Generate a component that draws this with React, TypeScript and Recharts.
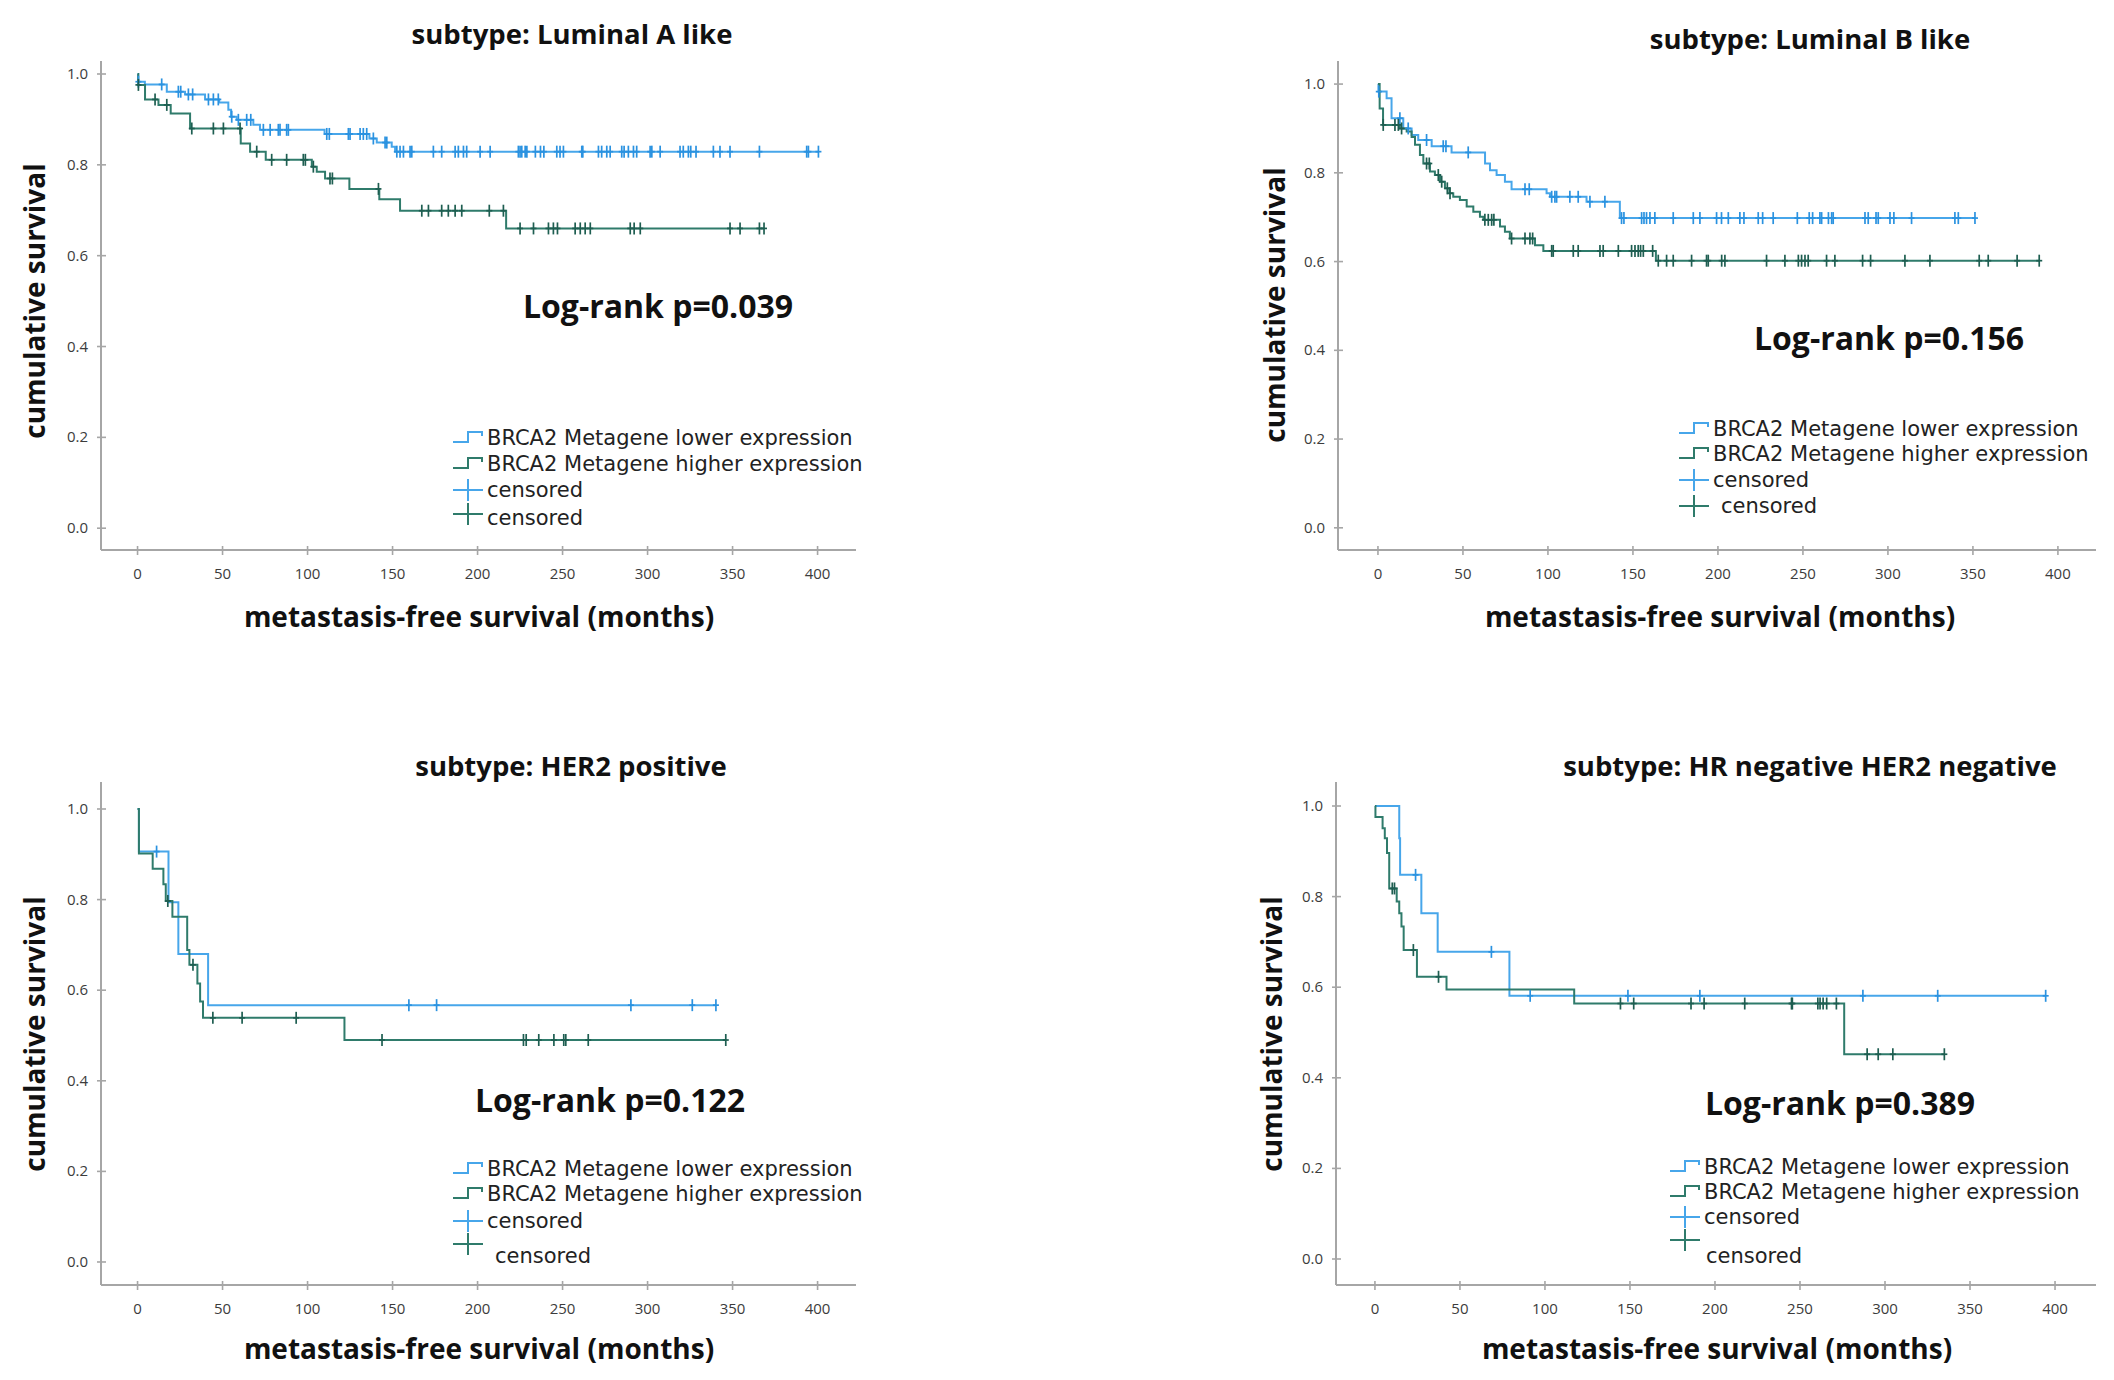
import { ComposedChart, Line, Scatter, XAxis, YAxis } from "recharts";

type Step = [number, number];

const monthTicks = [0, 50, 100, 150, 200, 250, 300, 350, 400];
const survTicks = [0, 0.2, 0.4, 0.6, 0.8, 1.0];
const legendLabels = [
    "BRCA2 Metagene lower expression",
    "BRCA2 Metagene higher expression",
    "censored",
    "censored",
];

// subtype: Luminal A like
const lumALowSteps: Step[] = [
    [0, 1.0], [0.4, 0.983], [4.3, 0.977], [17.2, 0.961], [27.9, 0.955], [39.7, 0.944], [48, 0.937],
    [53.4, 0.921], [55, 0.906], [58.3, 0.899], [68.1, 0.888], [72, 0.877], [110, 0.868],
    [136.4, 0.858], [140.7, 0.849], [149.5, 0.84], [151.5, 0.829],
];
const lumALowCensored = [
    0.5, 14.2, 24, 25.4, 29.9, 32.4, 41.7, 44.6, 47.5, 55.4, 59.3, 64.2, 66.6, 74, 78, 82.8, 83.8,
    87.7, 88.7, 111.3, 112.8, 124, 125, 130.9, 132.8, 134.8, 138.7, 145.6, 146.6, 152.5, 154.4,
    156.4, 160.3, 161.3, 174, 178.9, 186.8, 188.7, 191.7, 193.6, 201.5, 207.4, 224, 225, 226, 228,
    229, 234, 237, 239, 246.6, 248.5, 250.5, 261.3, 261.9, 271.1, 273, 276, 278, 284.8, 286.2,
    288.7, 291.7, 293.6, 301.5, 302.5, 307.4, 319.1, 321, 324, 325.4, 328.5, 338.7, 342.6, 348.5,
    365.8, 393.6, 394.6, 400.5,
];
const lumAHighSteps: Step[] = [
    [0, 1.0], [0.4, 0.976], [4.4, 0.944], [12.3, 0.932], [19.5, 0.913], [30.9, 0.88], [60.7, 0.847],
    [66.2, 0.829], [75.4, 0.811], [102.5, 0.796], [105.4, 0.785], [110.3, 0.77], [124.6, 0.747],
    [142.2, 0.724], [154.4, 0.699], [216.8, 0.66],
];
const lumAHighCensored = [
    0.5, 10.3, 17.2, 31.9, 44.6, 50.5, 60.3, 70.1, 78.9, 87.7, 97.5, 98.7, 103.4, 113.2, 114.6,
    141.7, 167.2, 171.1, 178.9, 182.8, 186.8, 190.7, 206.9, 215.2, 225, 232.9, 241.7, 244.6, 247,
    257.4, 260.4, 263.3, 266.3, 289.8, 292.1, 295.7, 348.5, 354.4, 365.8, 368.5,
];

// subtype: Luminal B like
const lumBLowSteps: Step[] = [
    [0, 1.0], [0.3, 0.983], [5.1, 0.968], [8, 0.923], [14.9, 0.9], [19.8, 0.885], [23.7, 0.874],
    [31.6, 0.86], [43.3, 0.846], [63, 0.821], [65.9, 0.806], [69.8, 0.795], [74.7, 0.78],
    [78.6, 0.763], [99.2, 0.754], [101.2, 0.746], [122.7, 0.735], [142.3, 0.698],
];
const lumBLowCensored = [
    0.5, 12.9, 17.8, 28.6, 38.4, 40, 53.1, 86.5, 89, 102.2, 104.1, 105.1, 112.9, 117.8, 124.7,
    133.5, 143.3, 144.7, 155.1, 156.5, 158, 160, 162.9, 173.7, 185.5, 189.4, 199.2, 202.1, 206.1,
    212.9, 215.3, 223.7, 226.3, 232.5, 246.7, 253.7, 255.7, 260, 261, 265, 266.9, 267.8, 286.5,
    288.4, 293, 294.3, 301.2, 303.5, 313.9, 339.4, 341.4, 351.2,
];
const lumBHighSteps: Step[] = [
    [0, 1.0], [1, 0.945], [3, 0.908], [12.9, 0.9], [16.9, 0.893], [19.8, 0.881], [21.8, 0.863],
    [24.7, 0.84], [26.7, 0.821], [30.6, 0.803], [33.5, 0.795], [36.5, 0.78], [39.4, 0.765],
    [42, 0.754], [44.3, 0.746], [48.2, 0.739], [52.2, 0.724], [56.1, 0.712], [60, 0.701],
    [62, 0.694], [71.8, 0.679], [74.7, 0.667], [77.6, 0.652], [92.4, 0.637], [97.3, 0.624],
    [163.5, 0.602],
];
const lumBHighCensored = [
    3.1, 10, 12, 13.9, 28.6, 30.2, 35.5, 37.5, 40.8, 42.4, 62.9, 64.9, 66.9, 68.2, 78.6, 86.5, 89.4,
    91, 102.2, 103.1, 114.9, 117.8, 130.6, 132.5, 141.4, 149.2, 151.2, 153.1, 154.5, 156.1, 161.6,
    164.9, 169.8, 173.7, 184.5, 193.3, 194.3, 202.2, 204.1, 228.6, 239.4, 247.3, 249.2, 251.2,
    253.1, 263.9, 268.8, 285.1, 289.8, 310, 324.7, 353.7, 359, 376, 389,
];

// subtype: HER2 positive
const her2LowSteps: Step[] = [[0, 1.0], [0.8, 0.906], [18.2, 0.794], [24, 0.68], [41.5, 0.567]];
const her2LowCensored = [11.2, 159.6, 175.9, 290.2, 326.3, 340.2];
const her2HighSteps: Step[] = [
    [0, 1.0], [0.8, 0.902], [8.9, 0.868], [15.2, 0.834], [16.6, 0.797], [20.5, 0.762],
    [29.2, 0.689], [30.5, 0.656], [35.2, 0.615], [36.8, 0.575], [38.5, 0.539], [121.7, 0.49],
];
const her2HighCensored = [
    17.8, 32.6, 44.3, 61.5, 93.3, 143.8, 227, 228.6, 236, 244.9, 250.7, 251.9, 265.1, 346,
];

// subtype: HR negative HER2 negative
const tnLowSteps: Step[] = [
    [0, 1.0], [14.3, 0.929], [14.8, 0.848], [27.3, 0.763], [36.9, 0.678], [79.1, 0.581],
];
const tnLowCensored = [23.9, 68.5, 91.3, 148.8, 191.1, 287, 331, 394.5];
const tnHighSteps: Step[] = [
    [0, 1.0], [0.3, 0.976], [4.5, 0.951], [5.8, 0.929], [7.1, 0.896], [8.4, 0.818], [12.8, 0.789],
    [14.3, 0.763], [15.6, 0.734], [16.9, 0.682], [24.7, 0.623], [42.1, 0.595], [117.2, 0.564],
    [276, 0.452],
];
const tnHighCensored = [
    10.2, 11.5, 22.6, 37.4, 144.4, 152.2, 185.9, 193.6, 217.5, 245, 245.5, 260.5, 261.8, 263.6,
    265.7, 271.4, 289.5, 296, 304.6, 334.9,
];

const BLUE = "#47a6ea";
const BLUE_MARK = "#2a92e0";
const GREEN = "#2f7b6b";
const GREEN_MARK = "#1e5e51";
const AXIS = "#a6a6a6";
const FONT = "'Open Sans', sans-serif";
const LEGEND_FONT = "'DejaVu Sans', sans-serif";

const survAt = (steps: Step[], t: number) => {
    let s = steps[0][1];
    for (const [tt, ss] of steps) if (tt <= t) s = ss;
    return s;
};

const lineData = (steps: Step[], cens: number[]) => {
    const pts = steps.map(([t, s]) => ({ t, s }));
    const last = steps[steps.length - 1];
    const end = Math.max(...cens);
    if (end > last[0]) pts.push({ t: end, s: last[1] });
    return pts;
};

const censData = (steps: Step[], cens: number[]) => cens.map((t) => ({ t, s: survAt(steps, t) }));

const Censor = ({ cx, cy, color }: { cx?: number; cy?: number; color: string }) => {
    if (cx == null || cy == null) return null;
    return (
        <g stroke={color} strokeWidth={1.7}>
            <line x1={cx} y1={cy - 6} x2={cx} y2={cy + 6} />
            <line x1={cx - 3} y1={cy} x2={cx + 3} y2={cy} />
        </g>
    );
};

interface Box { x: number; y: number; w: number; h: number }
interface Rect { left: number; top: number; right: number; bottom: number }

interface PanelProps {
    box: Box;
    plot: Rect;
    xDomain: [number, number];
    yDomain: [number, number];
    lowSteps: Step[];
    lowCens: number[];
    highSteps: Step[];
    highCens: number[];
}

const Y_AXIS_W = 60;
const X_AXIS_H = 40;

const KMPanel = ({ box, plot, xDomain, yDomain, lowSteps, lowCens, highSteps, highCens }: PanelProps) => {
    const margin = {
        left: plot.left - box.x - Y_AXIS_W,
        top: plot.top - box.y,
        right: box.x + box.w - plot.right,
        bottom: box.y + box.h - plot.bottom - X_AXIS_H,
    };
    const axisX = plot.left - box.x;
    const axisY = plot.bottom - box.y;

    const xTick = (p: any) => (
        <g>
            <line x1={p.x} y1={axisY - 4} x2={p.x} y2={axisY + 5} stroke={AXIS} strokeWidth={1.6} />
            <text x={p.x} y={axisY + 29} textAnchor="middle" fontSize={15} fill="#3c3c3c" fontFamily={FONT}>
                {p.payload.value}
            </text>
        </g>
    );
    const yTick = (p: any) => (
        <g>
            <line x1={axisX - 4} y1={p.y} x2={axisX + 5} y2={p.y} stroke={AXIS} strokeWidth={1.6} />
            <text x={axisX - 13} y={p.y + 5} textAnchor="end" fontSize={15} fill="#3c3c3c" fontFamily={FONT}>
                {Number(p.payload.value).toFixed(1)}
            </text>
        </g>
    );

    return (
        <div style={{ position: "absolute", left: box.x, top: box.y }}>
            <ComposedChart width={box.w} height={box.h} margin={margin}>
                <XAxis
                    type="number"
                    dataKey="t"
                    domain={xDomain}
                    ticks={monthTicks}
                    interval={0}
                    allowDataOverflow
                    height={X_AXIS_H}
                    axisLine={{ stroke: AXIS, strokeWidth: 2 }}
                    tickLine={false}
                    tick={xTick}
                />
                <YAxis
                    type="number"
                    dataKey="s"
                    domain={yDomain}
                    ticks={survTicks}
                    interval={0}
                    allowDataOverflow
                    width={Y_AXIS_W}
                    axisLine={{ stroke: AXIS, strokeWidth: 2 }}
                    tickLine={false}
                    tick={yTick}
                />
                <Line
                    data={lineData(lowSteps, lowCens)}
                    dataKey="s"
                    type="stepAfter"
                    stroke={BLUE}
                    strokeWidth={2}
                    dot={false}
                    isAnimationActive={false}
                />
                <Line
                    data={lineData(highSteps, highCens)}
                    dataKey="s"
                    type="stepAfter"
                    stroke={GREEN}
                    strokeWidth={2}
                    dot={false}
                    isAnimationActive={false}
                />
                <Scatter
                    data={censData(lowSteps, lowCens)}
                    dataKey="s"
                    isAnimationActive={false}
                    shape={(p: any) => <Censor cx={p.cx} cy={p.cy} color={BLUE_MARK} />}
                />
                <Scatter
                    data={censData(highSteps, highCens)}
                    dataKey="s"
                    isAnimationActive={false}
                    shape={(p: any) => <Censor cx={p.cx} cy={p.cy} color={GREEN_MARK} />}
                />
            </ComposedChart>
        </div>
    );
};

const StepIcon = ({ color }: { color: string }) => (
    <svg width={32} height={16} style={{ display: "block" }}>
        <polyline points="1,13 16,13 16,3 30,3 30,7" fill="none" stroke={color} strokeWidth={2} />
    </svg>
);

const PlusIcon = ({ color }: { color: string }) => (
    <svg width={32} height={24} style={{ display: "block" }}>
        <line x1={1} y1={12} x2={31} y2={12} stroke={color} strokeWidth={2} />
        <line x1={16} y1={1} x2={16} y2={23} stroke={color} strokeWidth={2} />
    </svg>
);

interface LegendProps { x: number; rows: number[]; lastIndent: number; lastIconLift: number }

const KMLegend = ({ x, rows, lastIndent, lastIconLift }: LegendProps) => {
    const icons = [
        <StepIcon color={BLUE} />,
        <StepIcon color={GREEN} />,
        <PlusIcon color={BLUE} />,
        <PlusIcon color={GREEN} />,
    ];
    return (
        <>
            {legendLabels.map((label, i) => (
                <div key={i}>
                    <div
                        style={{
                            position: "absolute",
                            left: x,
                            top: rows[i] - (i < 2 ? 9 : 12) - (i === 3 ? lastIconLift : 0),
                        }}
                    >
                        {icons[i]}
                    </div>
                    <div
                        style={{
                            position: "absolute",
                            left: x + 35 + (i === 3 ? lastIndent : 0),
                            top: rows[i],
                            transform: "translateY(-50%)",
                            fontFamily: LEGEND_FONT,
                            fontSize: 21,
                            lineHeight: 1,
                            color: "#222",
                            whiteSpace: "nowrap",
                        }}
                    >
                        {label}
                    </div>
                </div>
            ))}
        </>
    );
};

const Centered = ({ x, y, size, children, rotate }: { x: number; y: number; size: number; children: string; rotate?: boolean }) => (
    <div
        style={{
            position: "absolute",
            left: x,
            top: y,
            transform: `translate(-50%, -50%)${rotate ? " rotate(-90deg)" : ""}`,
            fontFamily: FONT,
            fontWeight: 700,
            fontSize: size,
            lineHeight: 1,
            color: "#111",
            whiteSpace: "nowrap",
        }}
    >
        {children}
    </div>
);

const App = () => {
    return (
        <div style={{ position: "absolute", left: 0, top: 0, width: 2114, height: 1380, background: "#fff", overflow: "hidden" }}>
            <KMPanel
                box={{ x: 0, y: 0, w: 1000, h: 690 }}
                plot={{ left: 101, top: 61, right: 856, bottom: 550 }}
                xDomain={[-21.5, 422.6]}
                yDomain={[-0.048, 1.0286]}
                lowSteps={lumALowSteps}
                lowCens={lumALowCensored}
                highSteps={lumAHighSteps}
                highCens={lumAHighCensored}
            />
            <KMPanel
                box={{ x: 1057, y: 0, w: 1057, h: 690 }}
                plot={{ left: 1338, top: 61, right: 2096, bottom: 550 }}
                xDomain={[-23.5, 422.4]}
                yDomain={[-0.05, 1.052]}
                lowSteps={lumBLowSteps}
                lowCens={lumBLowCensored}
                highSteps={lumBHighSteps}
                highCens={lumBHighCensored}
            />
            <KMPanel
                box={{ x: 0, y: 690, w: 1000, h: 690 }}
                plot={{ left: 101, top: 782, right: 856, bottom: 1285 }}
                xDomain={[-21.5, 422.6]}
                yDomain={[-0.0508, 1.0596]}
                lowSteps={her2LowSteps}
                lowCens={her2LowCensored}
                highSteps={her2HighSteps}
                highCens={her2HighCensored}
            />
            <KMPanel
                box={{ x: 1057, y: 690, w: 1057, h: 690 }}
                plot={{ left: 1336, top: 782, right: 2096, bottom: 1285 }}
                xDomain={[-22.9, 424.1]}
                yDomain={[-0.0574, 1.053]}
                lowSteps={tnLowSteps}
                lowCens={tnLowCensored}
                highSteps={tnHighSteps}
                highCens={tnHighCensored}
            />

            <Centered x={572} y={34} size={27.5}>subtype:  Luminal A like</Centered>
            <Centered x={1810} y={39} size={27.5}>subtype:  Luminal B like</Centered>
            <Centered x={571} y={766} size={27.5}>subtype:  HER2 positive</Centered>
            <Centered x={1810} y={766} size={27.5}>subtype:  HR negative HER2 negative</Centered>

            <Centered x={479} y={616} size={28}>metastasis-free survival (months)</Centered>
            <Centered x={1720} y={616} size={28}>metastasis-free survival (months)</Centered>
            <Centered x={479} y={1348} size={28}>metastasis-free survival (months)</Centered>
            <Centered x={1717} y={1348} size={28}>metastasis-free survival (months)</Centered>

            <Centered x={34} y={301} size={28} rotate>cumulative survival</Centered>
            <Centered x={1274} y={305} size={28} rotate>cumulative survival</Centered>
            <Centered x={34} y={1034} size={28} rotate>cumulative survival</Centered>
            <Centered x={1271} y={1034} size={28} rotate>cumulative survival</Centered>

            <Centered x={658} y={306} size={32}>Log-rank p=0.039</Centered>
            <Centered x={1889} y={338} size={32}>Log-rank p=0.156</Centered>
            <Centered x={610} y={1100} size={32}>Log-rank p=0.122</Centered>
            <Centered x={1840} y={1103} size={32}>Log-rank p=0.389</Centered>

            <KMLegend x={452} rows={[438, 464, 490, 518]} lastIndent={0} lastIconLift={4} />
            <KMLegend x={1678} rows={[429, 454, 480, 506]} lastIndent={8} lastIconLift={0} />
            <KMLegend x={452} rows={[1169, 1194, 1221, 1256]} lastIndent={8} lastIconLift={12} />
            <KMLegend x={1669} rows={[1167, 1192, 1217, 1256]} lastIndent={2} lastIconLift={16} />
        </div>
    );
};

export default App;
